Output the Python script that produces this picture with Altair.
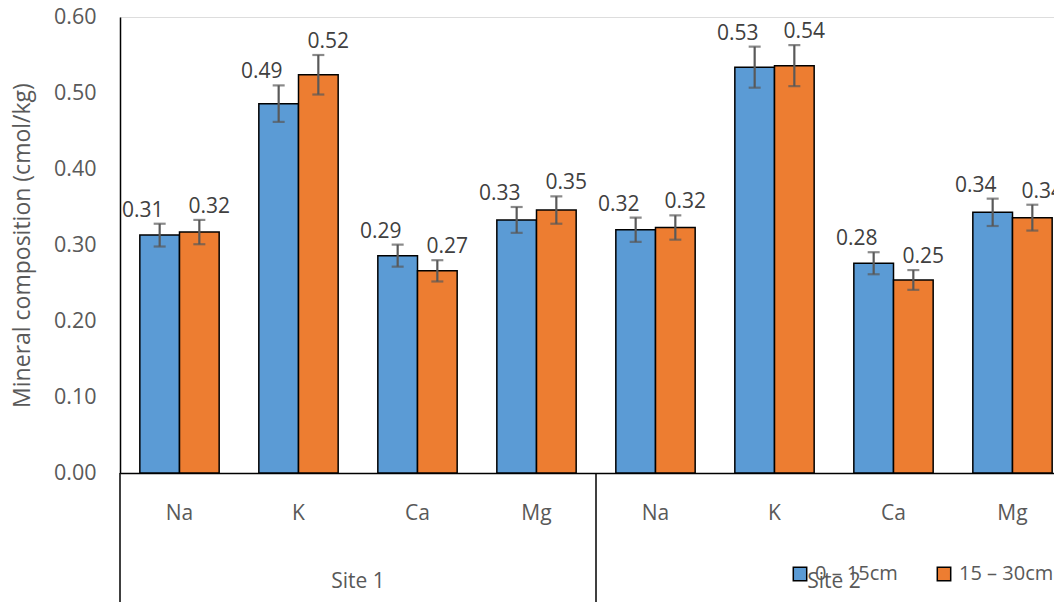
import altair as alt
import pandas as pd

FONT = "Open Sans"

site_names = ["Site 1", "Site 2"]
minerals = ["Na", "K", "Ca", "Mg"]
depths = ["0 – 15cm", "15 – 30cm"]
colors = ["#5B9BD5", "#ED7D31"]

# values per (site, mineral) in order Site1 Na,K,Ca,Mg, Site2 Na,K,Ca,Mg
shallow = [0.313, 0.486, 0.286, 0.333, 0.320, 0.534, 0.276, 0.343]
deep = [0.317, 0.524, 0.266, 0.346, 0.323, 0.536, 0.254, 0.336]
shallow_err = [0.015, 0.024, 0.0145, 0.017, 0.016, 0.027, 0.0145, 0.018]
deep_err = [0.016, 0.026, 0.014, 0.018, 0.016, 0.027, 0.013, 0.017]

y_ticks = [0.0, 0.1, 0.2, 0.3, 0.4, 0.5, 0.6]

rows = []
keys = []
i = 0
for s in site_names:
    for m in minerals:
        k = s + "|" + m
        keys.append(k)
        for d, vals, errs in ((depths[0], shallow, shallow_err), (depths[1], deep, deep_err)):
            v, e = vals[i], errs[i]
            rows.append({"site": s, "mineral": m, "key": k, "depth": d,
                         "value": v, "lo": v - e, "hi": v + e})
        i += 1
df = pd.DataFrame(rows)
site_df = pd.DataFrame({"site": site_names})

PLOT_W = 934
RANGE_W = 952
PLOT_H = 456

xscale = alt.Scale(domain=keys, range=[0, RANGE_W], paddingInner=0, paddingOuter=0)
x_enc = alt.X("key:N", sort=keys, scale=xscale,
              axis=alt.Axis(title=None, labelExpr="split(datum.label, '|')[1]",
                            labelAngle=0, ticks=False, labelPadding=29,
                            labelFontSize=21, labelColor="#595959", labelFont=FONT,
                            domainColor="black", domainWidth=1.5))
xoff = alt.XOffset("depth:N", sort=depths,
                   scale=alt.Scale(domain=depths, paddingInner=0, paddingOuter=0.5))
yscale = alt.Scale(domain=[0, 0.6], nice=False)

base = alt.Chart(df)

bars = base.mark_bar(stroke="black", strokeWidth=1.5).encode(
    x=x_enc, xOffset=xoff,
    y=alt.Y("value:Q", scale=yscale,
            axis=alt.Axis(values=y_ticks, format=".2f", title="Mineral composition (cmol/kg)",
                          grid=False, ticks=False, labelPadding=24,
                          labelFontSize=21.5, labelColor="#595959", labelFont=FONT,
                          titleFontSize=23, titleColor="#595959", titleFont=FONT,
                          titleFontWeight="normal", titleX=-86, titleY=228,
                          domainColor="black", domainWidth=1.5)),
    color=alt.Color("depth:N", sort=depths, scale=alt.Scale(domain=depths, range=colors),
                    legend=alt.Legend(title=None, orient="none", legendX=670, legendY=547,
                                      direction="horizontal", symbolType="square",
                                      symbolSize=180, symbolStrokeColor="black",
                                      symbolStrokeWidth=1.5, labelFontSize=20,
                                      labelColor="#595959", labelFont=FONT,
                                      columnPadding=36, padding=0, labelOffset=5)),
)

err = base.mark_rule(color="#595959", strokeWidth=2.2).encode(
    x=x_enc, xOffset=xoff, y=alt.Y("lo:Q", scale=yscale), y2="hi:Q")
cap_lo = base.mark_tick(orient="horizontal", size=12, thickness=2.2, color="#595959").encode(
    x=x_enc, xOffset=xoff, y=alt.Y("lo:Q", scale=yscale))
cap_hi = base.mark_tick(orient="horizontal", size=12, thickness=2.2, color="#595959").encode(
    x=x_enc, xOffset=xoff, y=alt.Y("hi:Q", scale=yscale))

lab_a = base.mark_text(font=FONT, fontSize=21, color="#404040", baseline="alphabetic",
                       dy=-7, dx=-17).encode(
    x=x_enc, xOffset=xoff, y=alt.Y("hi:Q", scale=yscale),
    text=alt.Text("value:Q", format=".2f")).transform_filter(
    alt.datum.depth == depths[0])
lab_b = base.mark_text(font=FONT, fontSize=21, color="#404040", baseline="alphabetic",
                       dy=-7, dx=10).encode(
    x=x_enc, xOffset=xoff, y=alt.Y("hi:Q", scale=yscale),
    text=alt.Text("value:Q", format=".2f")).transform_filter(
    alt.datum.depth == depths[1])

main = alt.layer(bars, err, cap_lo, cap_hi, lab_a, lab_b)

sscale = alt.Scale(domain=site_names, range=[0, RANGE_W], paddingInner=0, paddingOuter=0)
site_text = alt.Chart(site_df).mark_text(font=FONT, fontSize=21, color="#595959",
                                         baseline="middle").encode(
    x=alt.X("site:N", scale=sscale, axis=None),
    y=alt.value(565), text="site:N")
site_rule = alt.Chart(site_df).mark_rule(color="black", strokeWidth=1.5).encode(
    x=alt.X("site:N", scale=sscale, axis=None, bandPosition=0),
    y=alt.value(PLOT_H), y2=alt.value(593))
sites = alt.layer(site_rule, site_text)

chart = alt.layer(main, sites).resolve_scale(x="independent").properties(
    width=PLOT_W, height=PLOT_H,
    autosize=alt.AutoSizeParams(type="none"),
    padding={"left": 112, "top": 9, "right": 0, "bottom": 129},
).configure_view(stroke=None).configure(background="white")

chart.save("out.html", embed_options={"renderer": "svg", "actions": False})
